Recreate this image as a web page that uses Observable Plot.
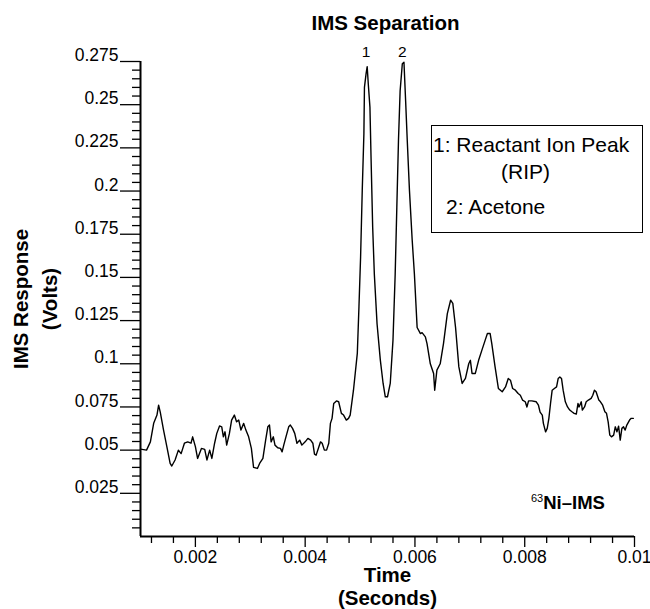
<!DOCTYPE html>
<html>
<head>
<meta charset="utf-8">
<script src="https://cdn.jsdelivr.net/npm/d3@7"></script>
<script src="https://cdn.jsdelivr.net/npm/@observablehq/plot@0.6"></script>
<style>
  html, body { margin: 0; padding: 0; background: #fff; }
  #wrap { position: relative; width: 650px; height: 609px; font-family: "Liberation Sans", Arial, Helvetica, sans-serif; color: #000; }
  #legend { position: absolute; left: 431px; top: 125px; width: 212px; height: 108px; border: 1.5px solid #000; box-sizing: border-box; background: #fff; font-size: 21px; }
  #legend span { position: absolute; line-height: 21px; white-space: nowrap; }
  #tag { position: absolute; left: 531px; top: 493px; font-size: 18.5px; font-weight: bold; line-height: 20px; white-space: nowrap; }
  #tag sup { font-size: 11px; font-weight: normal; vertical-align: 0; position: relative; top: -7px; }
</style>
</head>
<body>
<div id="wrap"></div>
<script>
const times = [0.00100,0.00111,0.00118,0.00124,0.00130,0.00133,0.00136,0.00142,0.00148,0.00154,0.00157,0.00163,0.00169,0.00174,0.00180,0.00186,0.00192,0.00195,0.00200,0.00204,0.00211,0.00217,0.00221,0.00226,0.00230,0.00235,0.00239,0.00244,0.00248,0.00251,0.00254,0.00257,0.00262,0.00266,0.00271,0.00275,0.00279,0.00283,0.00288,0.00292,0.00297,0.00302,0.00306,0.00313,0.00317,0.00323,0.00328,0.00332,0.00335,0.00338,0.00342,0.00345,0.00350,0.00355,0.00358,0.00361,0.00365,0.00370,0.00373,0.00377,0.00381,0.00385,0.00390,0.00394,0.00400,0.00405,0.00410,0.00414,0.00417,0.00420,0.00425,0.00428,0.00431,0.00435,0.00439,0.00443,0.00446,0.00449,0.00452,0.00457,0.00461,0.00466,0.00470,0.00475,0.00479,0.00482,0.00488,0.00495,0.00498,0.00501,0.00504,0.00507,0.00508,0.00511,0.00513,0.00515,0.00518,0.00520,0.00523,0.00526,0.00531,0.00537,0.00542,0.00546,0.00550,0.00555,0.00560,0.00564,0.00567,0.00570,0.00573,0.00577,0.00580,0.00583,0.00586,0.00590,0.00595,0.00599,0.00604,0.00610,0.00613,0.00619,0.00622,0.00628,0.00634,0.00636,0.00640,0.00646,0.00652,0.00659,0.00665,0.00669,0.00674,0.00680,0.00686,0.00692,0.00698,0.00701,0.00704,0.00710,0.00716,0.00722,0.00728,0.00732,0.00737,0.00740,0.00746,0.00752,0.00759,0.00765,0.00770,0.00774,0.00778,0.00783,0.00788,0.00792,0.00796,0.00801,0.00804,0.00807,0.00813,0.00821,0.00825,0.00828,0.00832,0.00834,0.00838,0.00841,0.00844,0.00847,0.00850,0.00854,0.00858,0.00861,0.00864,0.00867,0.00870,0.00874,0.00878,0.00882,0.00886,0.00890,0.00894,0.00897,0.00899,0.00903,0.00905,0.00909,0.00912,0.00916,0.00921,0.00924,0.00927,0.00930,0.00935,0.00938,0.00942,0.00946,0.00949,0.00952,0.00955,0.00958,0.00962,0.00965,0.00968,0.00971,0.00974,0.00977,0.00980,0.00983,0.00986,0.00991,0.00994,0.00998];
const volts = [0.0506,0.0500,0.0548,0.0655,0.0703,0.0760,0.0720,0.0616,0.0520,0.0423,0.0408,0.0443,0.0500,0.0480,0.0540,0.0548,0.0540,0.0577,0.0520,0.0452,0.0510,0.0504,0.0443,0.0500,0.0452,0.0540,0.0597,0.0640,0.0635,0.0577,0.0606,0.0529,0.0597,0.0674,0.0703,0.0664,0.0674,0.0616,0.0655,0.0616,0.0577,0.0510,0.0400,0.0394,0.0423,0.0452,0.0558,0.0635,0.0645,0.0548,0.0577,0.0529,0.0514,0.0510,0.0490,0.0529,0.0577,0.0635,0.0645,0.0626,0.0597,0.0540,0.0558,0.0529,0.0548,0.0568,0.0558,0.0540,0.0477,0.0471,0.0520,0.0548,0.0540,0.0500,0.0500,0.0540,0.0655,0.0684,0.0770,0.0785,0.0780,0.0713,0.0703,0.0674,0.0684,0.0703,0.0847,0.1060,0.1330,0.1620,0.2004,0.2332,0.2600,0.2680,0.2720,0.2620,0.2486,0.2197,0.1790,0.1520,0.1230,0.1020,0.0886,0.0809,0.0809,0.0886,0.1137,0.1520,0.1907,0.2293,0.2580,0.2737,0.2746,0.2524,0.2293,0.2004,0.1715,0.1520,0.1210,0.1175,0.1180,0.1156,0.1117,0.1000,0.0944,0.0847,0.0963,0.1000,0.1117,0.1290,0.1368,0.1350,0.1210,0.0982,0.0886,0.0915,0.1000,0.1020,0.0944,0.0944,0.1020,0.1079,0.1137,0.1175,0.1175,0.1117,0.0982,0.0857,0.0838,0.0866,0.0915,0.0905,0.0857,0.0847,0.0828,0.0818,0.0790,0.0780,0.0750,0.0785,0.0785,0.0780,0.0760,0.0720,0.0703,0.0655,0.0606,0.0626,0.0684,0.0770,0.0847,0.0857,0.0866,0.0915,0.0924,0.0915,0.0847,0.0780,0.0750,0.0732,0.0722,0.0713,0.0709,0.0770,0.0750,0.0780,0.0732,0.0750,0.0780,0.0790,0.0800,0.0818,0.0847,0.0838,0.0790,0.0780,0.0760,0.0722,0.0713,0.0664,0.0587,0.0577,0.0587,0.0635,0.0606,0.0639,0.0558,0.0626,0.0635,0.0616,0.0645,0.0674,0.0684,0.0684];

const xMajorTicks = [0.002, 0.004, 0.006, 0.008, 0.01];
const xMinorTicks = [0.0012, 0.0016, 0.0024, 0.0028, 0.0032, 0.0036, 0.0044, 0.0048, 0.0052, 0.0056, 0.0064, 0.0068, 0.0072, 0.0076, 0.0084, 0.0088, 0.0092, 0.0096];
const yMajorTicks = [0.025, 0.05, 0.075, 0.1, 0.125, 0.15, 0.175, 0.2, 0.225, 0.25, 0.275];
const yMinorTicks = [0.005, 0.01, 0.015, 0.02, 0.03, 0.035, 0.04, 0.045, 0.055, 0.06, 0.065, 0.07, 0.08, 0.085, 0.09, 0.095, 0.105, 0.11, 0.115, 0.12, 0.13, 0.135, 0.14, 0.145, 0.155, 0.16, 0.165, 0.17, 0.18, 0.185, 0.19, 0.195, 0.205, 0.21, 0.215, 0.22, 0.23, 0.235, 0.24, 0.245, 0.255, 0.26, 0.265, 0.27];

const peakTimes = [0.00511, 0.00577];
const peakLabels = ["1", "2"];

const titleText = "IMS Separation";
const yLabelText = "IMS Response\n(Volts)";
const xLabelText = "Time\n(Seconds)";
const legendLines = ["1: Reactant Ion Peak", "(RIP)", "2: Acetone"];
const tagSup = "63";
const tagMain = "Ni–IMS";

const series = times.map((t, i) => ({t, v: volts[i]}));
const peaks = peakTimes.map((t, i) => ({t, label: peakLabels[i]}));

const chart = Plot.plot({
  width: 650,
  height: 609,
  marginLeft: 140,
  marginRight: 16,
  marginTop: 61,
  marginBottom: 73,
  style: {fontFamily: '"Liberation Sans", Arial, Helvetica, sans-serif', fontSize: "17px", color: "#000", background: "#fff", overflow: "visible"},
  x: {domain: [0.001, 0.01], label: null},
  y: {domain: [0, 0.275], label: null},
  marks: [
    Plot.axisY(yMinorTicks, {tickSize: 8, tickFormat: () => "", strokeWidth: 1.3, label: null}),
    Plot.axisY(yMajorTicks, {tickSize: 20, tickFormat: () => "", strokeWidth: 1.3, label: null}),
    Plot.axisY(yMajorTicks, {tickSize: 0, tickPadding: 22, dy: -6, fontSize: 17.5, tickFormat: d => String(d), label: null}),
    Plot.axisX(xMinorTicks, {tickSize: 7, tickFormat: () => "", strokeWidth: 1.3, label: null}),
    Plot.axisX(xMajorTicks, {tickSize: 11, tickFormat: () => "", strokeWidth: 1.3, label: null}),
    Plot.axisX(xMajorTicks, {tickSize: 0, tickPadding: 14, fontSize: 17.5, tickFormat: d => String(d), label: null}),
    Plot.ruleX([0.001], {strokeWidth: 2}),
    Plot.ruleY([0], {strokeWidth: 2}),
    Plot.line(series, {x: "t", y: "v", stroke: "#000", strokeWidth: 1.4}),
    Plot.text(peaks, {x: "t", frameAnchor: "top", lineAnchor: "middle", text: "label", dy: -9, fontSize: 15.5}),
    Plot.text([titleText], {frameAnchor: "top", lineAnchor: "middle", textAnchor: "middle", text: d => d, dy: -38, dx: -2, fontSize: 20.5, fontWeight: "bold"}),
    Plot.text([yLabelText], {frameAnchor: "left", lineAnchor: "middle", textAnchor: "middle", text: d => d, rotate: -90, dx: -107, fontSize: 20.5, fontWeight: "bold", lineHeight: 1.4}),
    Plot.text([xLabelText], {frameAnchor: "bottom", lineAnchor: "middle", textAnchor: "middle", text: d => d, dy: 50, fontSize: 20.5, fontWeight: "bold", lineHeight: 1.12})
  ]
});

const wrap = document.getElementById("wrap");
wrap.appendChild(chart);

const legend = document.createElement("div");
legend.id = "legend";
const legendPos = [{left: 1, top: 8}, {left: 69, top: 35}, {left: 14, top: 70}];
legendLines.forEach((txt, i) => {
  const s = document.createElement("span");
  s.textContent = txt;
  s.style.left = legendPos[i].left + "px";
  s.style.top = legendPos[i].top + "px";
  legend.appendChild(s);
});
wrap.appendChild(legend);

const tag = document.createElement("div");
tag.id = "tag";
const sup = document.createElement("sup");
sup.textContent = tagSup;
tag.appendChild(sup);
tag.appendChild(document.createTextNode(tagMain));
wrap.appendChild(tag);
</script>
</body>
</html>
